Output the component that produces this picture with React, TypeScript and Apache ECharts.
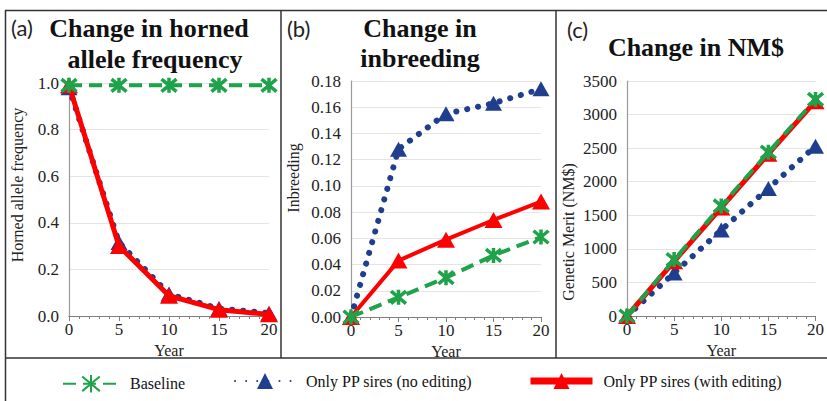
import React, { useEffect, useRef } from "react";
import * as echarts from "echarts";

const years = [0, 5, 10, 15, 20];

// (a) Horned allele frequency
const freqBaseline = [0.99, 0.99, 0.99, 0.99, 0.99];
const freqNoEdit = [0.98, 0.315, 0.094, 0.032, 0.012];
const freqWithEdit = [0.99, 0.3, 0.087, 0.027, 0.007];

// (b) Inbreeding
const inbBaseline = [0, 0.015, 0.03, 0.047, 0.061];
const inbNoEdit = [0, 0.128, 0.155, 0.163, 0.174];
const inbWithEdit = [0, 0.043, 0.059, 0.074, 0.088];

// (c) Genetic merit NM$
const nmBaseline = [0, 840, 1640, 2440, 3225];
const nmNoEdit = [0, 640, 1280, 1900, 2530];
const nmWithEdit = [0, 815, 1615, 2415, 3200];

const seriesNames = ["Baseline", "Only PP sires (no editing)", "Only PP sires (with editing)"];
const yNames = ["Horned allele frequency", "Inbreeding", "Genetic Merit (NM$)"];

const GREEN = "#1fa34a";
const BLUE = "#1f3f8e";
const RED = "#ff0000";
const SERIF = "Liberation Serif, serif";
const STAR = "path://M0,0L10,10M10,0L0,10M5,-1L5,11";

const pairs = (vals: number[]) => years.map((y, i) => [y, vals[i]]);

export default function App() {
  const ref = useRef<HTMLDivElement>(null);
  useEffect(() => {
    if (!ref.current) return;
    const chart = echarts.init(ref.current, null, { renderer: "svg" });

    const grids = [
      { left: 69, top: 83, width: 200, height: 233 },
      { left: 351, top: 81, width: 190, height: 236 },
      { left: 627, top: 81, width: 189, height: 235 },
    ];
    const yCfg = [
      { min: 0, max: 1, interval: 0.2, dec: 1 },
      { min: 0, max: 0.18, interval: 0.02, dec: 2 },
      { min: 0, max: 3500, interval: 500, dec: 0 },
    ];
    const yNamePos = [
      { x: 17, y: 185 },
      { x: 293, y: 178 },
      { x: 568, y: 232 },
    ];

    const txt = (size: number) => ({ fontFamily: SERIF, fontSize: size, color: "#222", fontWeight: "normal" });

    const xAxis = grids.map((_, i) => ({
      type: "value",
      gridIndex: i,
      min: 0,
      max: 20,
      interval: 5,
      name: "Year",
      nameLocation: "middle",
      nameGap: 22,
      nameTextStyle: txt(16),
      axisLine: { show: true, lineStyle: { color: "#7f7f7f", width: 1.2 } },
      axisTick: { show: true, length: 5, lineStyle: { color: "#7f7f7f" } },
      minorTick: { show: true, splitNumber: 5, length: 3, lineStyle: { color: "#7f7f7f" } },
      axisLabel: { ...txt(17), margin: 5 },
      splitLine: { show: false },
    }));

    const yAxis = yCfg.map((c, i) => ({
      type: "value",
      gridIndex: i,
      min: c.min,
      max: c.max,
      interval: c.interval,
      axisLine: { show: true, lineStyle: { color: "#9a9a9a", width: 1.2 } },
      axisTick: { show: false },
      axisLabel: {
        ...txt(17),
        margin: 10,
        formatter: (v: number) => v.toFixed(c.dec),
      },
      splitLine: { show: true, lineStyle: { color: "#e4e4e4", width: 1 } },
    }));

    const panels = [
      { base: freqBaseline, no: freqNoEdit, w: freqWithEdit },
      { base: inbBaseline, no: inbNoEdit, w: inbWithEdit },
      { base: nmBaseline, no: nmNoEdit, w: nmWithEdit },
    ];

    const series: any[] = [];
    panels.forEach((p, i) => {
      series.push({
        type: "line",
        name: seriesNames[1],
        xAxisIndex: i,
        yAxisIndex: i,
        data: pairs(p.no),
        symbol: "triangle",
        symbolSize: [17, 15],
        itemStyle: { color: BLUE },
        lineStyle: { color: BLUE, width: 6, type: [0.1, 11], cap: "round" },
        z: 2,
      });
      series.push({
        type: "line",
        name: seriesNames[2],
        xAxisIndex: i,
        yAxisIndex: i,
        data: pairs(p.w),
        symbol: "triangle",
        symbolSize: [18, 16],
        itemStyle: { color: RED },
        lineStyle: { color: RED, width: i === 1 ? 4 : 5 },
        z: 3,
      });
      series.push({
        type: "line",
        name: seriesNames[0],
        xAxisIndex: i,
        yAxisIndex: i,
        data: pairs(p.base),
        symbol: STAR,
        symbolSize: 15,
        itemStyle: { color: GREEN, borderColor: GREEN, borderWidth: 3.5 },
        lineStyle: { color: GREEN, width: 4, type: [13, 7] },
        z: 4,
      });
    });

    const legendText = { ...txt(16), color: "#111", padding: [0, 0, 0, 6] };
    const legend = [
      { data: [seriesNames[0]], left: 57, top: 369, itemWidth: 56, itemHeight: 22, textStyle: legendText },
      { data: [seriesNames[1]], left: 229, top: 368, itemWidth: 60, itemHeight: 20, textStyle: legendText },
      {
        data: [seriesNames[2]],
        left: 522,
        top: 368,
        itemWidth: 62,
        itemHeight: 20,
        textStyle: legendText,
        lineStyle: { width: 7 },
      },
    ];

    const border = { stroke: "#333", lineWidth: 1.5 };
    const titleFont = "bold 26px Liberation Serif";
    const mid = { textAlign: "center", textVerticalAlign: "middle" };
    const graphic: any[] = [
      { type: "line", shape: { x1: 5, y1: 10.5, x2: 827, y2: 10.5 }, style: border },
      { type: "line", shape: { x1: 5.5, y1: 10, x2: 5.5, y2: 401 }, style: border },
      { type: "line", shape: { x1: 281, y1: 10, x2: 281, y2: 358 }, style: border },
      { type: "line", shape: { x1: 556, y1: 10, x2: 556, y2: 358 }, style: border },
      { type: "line", shape: { x1: 5, y1: 358, x2: 827, y2: 358 }, style: border },
      {
        type: "text",
        x: 11,
        y: 27,
        style: { text: "(a)", font: "22px Lato", fill: "#222", textAlign: "left", textVerticalAlign: "middle" },
      },
      {
        type: "text",
        x: 287,
        y: 28,
        style: { text: "(b)", font: "22px Lato", fill: "#222", textAlign: "left", textVerticalAlign: "middle" },
      },
      {
        type: "text",
        x: 567,
        y: 29,
        style: { text: "(c)", font: "22px Lato", fill: "#222", textAlign: "left", textVerticalAlign: "middle" },
      },
      { type: "text", x: 149, y: 28, style: { text: "Change in horned", font: titleFont, fill: "#111", ...mid } },
      { type: "text", x: 155, y: 59, style: { text: "allele frequency", font: titleFont, fill: "#111", ...mid } },
      { type: "text", x: 420, y: 28, style: { text: "Change in", font: titleFont, fill: "#111", ...mid } },
      { type: "text", x: 420, y: 58, style: { text: "inbreeding", font: titleFont, fill: "#111", ...mid } },
      { type: "text", x: 696, y: 47, style: { text: "Change in NM$", font: titleFont, fill: "#111", ...mid } },
      ...yNames.map((n, i) => ({
        type: "text",
        x: yNamePos[i].x,
        y: yNamePos[i].y,
        rotation: Math.PI / 2,
        style: { text: n, font: "16px Liberation Serif", fill: "#222", ...mid },
      })),
    ];

    chart.setOption({
      animation: false,
      backgroundColor: "#fff",
      textStyle: { fontFamily: SERIF },
      grid: grids,
      xAxis,
      yAxis,
      series,
      legend,
      graphic,
    });
    return () => chart.dispose();
  }, []);

  return (
    <div
      ref={ref}
      style={{ position: "absolute", left: 0, top: 0, width: 827, height: 401, background: "#fff" }}
    />
  );
}
